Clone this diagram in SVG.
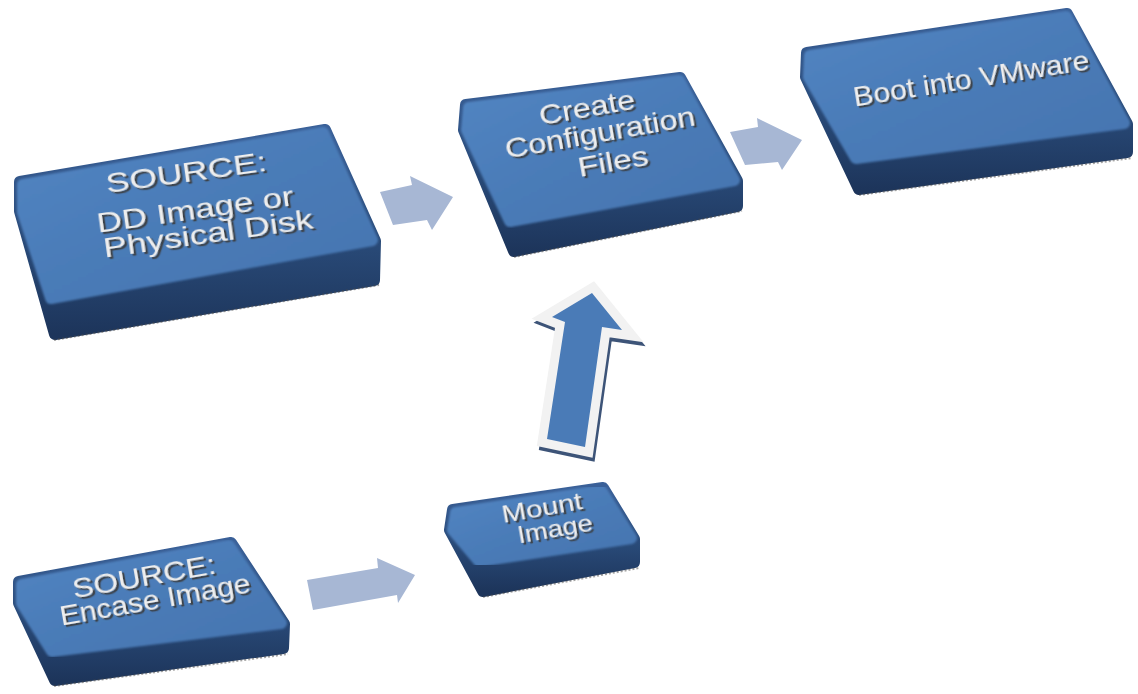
<svg xmlns="http://www.w3.org/2000/svg" width="1138" height="694" viewBox="0 0 1138 694">
<defs>
<linearGradient id="sideG" x1="0" y1="0" x2="0" y2="1">
<stop offset="0" stop-color="#3a6098"/>
<stop offset="0.55" stop-color="#294a78"/>
<stop offset="1" stop-color="#1d355b"/>
</linearGradient>
<linearGradient id="topG" x1="0" y1="0" x2="1" y2="1">
<stop offset="0" stop-color="#5285c2"/>
<stop offset="0.5" stop-color="#4a7bb7"/>
<stop offset="1" stop-color="#4575b0"/>
</linearGradient>
<filter id="txtSh" x="-10%" y="-30%" width="130%" height="170%">
<feDropShadow dx="1.8" dy="2.2" stdDeviation="0.6" flood-color="#3a3a3a" flood-opacity="0.9"/>
</filter>
<filter id="soft" x="-5%" y="-5%" width="110%" height="110%">
<feGaussianBlur stdDeviation="1"/>
</filter>
</defs>
<style>
.sil{fill:url(#sideG);stroke:url(#sideG);stroke-width:12;stroke-linejoin:round}
.top{fill:url(#topG);stroke:url(#topG);stroke-width:12;stroke-linejoin:round;filter:url(#soft)}
.dots{fill:none;stroke:#4a4a4a;stroke-width:2;stroke-dasharray:2 2;opacity:0.5}
.lbl{font-family:"Liberation Sans",Arial,sans-serif;fill:#eeeeee;text-anchor:middle;filter:url(#txtSh)}
.flow{fill:#a7b7d4}
</style>
<rect width="1138" height="694" fill="#ffffff"/>

<g id="connectors">
<polygon class="flow" points="380,192 412,185 410,176 453,197 432,230 427,220 393,225"/>
<polygon class="flow" points="730,132 758,127 757,118 802,140 782,170 778,162 745,165"/>
<polygon class="flow" points="307,580 378,568 377,558 415,575 398,603 397,595 313,610"/>
<g id="up-arrow">
<polygon points="592,293 622,330 602,327 585,447 547,439 565,322 552,317" fill="#3d5478" stroke="#3d5478" stroke-width="18" stroke-linejoin="miter" transform="translate(2,4)"/>
<polygon points="592,293 622,330 602,327 585,447 547,439 565,322 552,317" fill="#f2f2f2" stroke="#f2f2f2" stroke-width="18" stroke-linejoin="miter"/>
<polygon points="592,293 622,330 602,327 585,447 547,439 565,322 552,317" fill="#4a7bb7"/>
</g>
</g>

<g id="node-source-dd">
<polygon class="sil" points="20,182 325,130 375,241 374,280 55,334 20,211"/>
<polyline class="dots" points="54,340 379,285"/>
<polygon class="top" points="23,185 323,133 372,240 51,298 23,212"/>
<text class="lbl" font-size="28" transform="translate(186,172) rotate(-8) scale(1.27,1)" dy="0.35em">SOURCE:</text>
<text class="lbl" font-size="28" transform="translate(195,209) rotate(-8) scale(1.25,1)" dy="0.35em">DD Image or</text>
<text class="lbl" font-size="28" transform="translate(208,233) rotate(-8) scale(1.27,1)" dy="0.35em">Physical Disk</text>
</g>

<g id="node-config">
<polygon class="sil" points="466,105 680,78 737,181 737,206 514,251 464,130"/>
<polyline class="dots" points="514,257 742,211"/>
<polygon class="top" points="469,108 679,81 734,180 510,221 467,130"/>
<text class="lbl" font-size="27" transform="translate(587,108) rotate(-10) scale(1.2,1)" dy="0.35em">Create</text>
<text class="lbl" font-size="27" transform="translate(600,133) rotate(-10) scale(1.2,1)" dy="0.35em">Configuration</text>
<text class="lbl" font-size="27" transform="translate(613,162) rotate(-10) scale(1.25,1)" dy="0.35em">Files</text>
</g>

<g id="node-boot">
<polygon class="sil" points="807,53 1067,14 1127,124 1127,152 859,189 806,77"/>
<polyline class="dots" points="859,195 1132,158"/>
<polygon class="top" points="810,56 1066,17 1124,123 856,158 809,77"/>
<text class="lbl" font-size="28" transform="translate(971,78) rotate(-9) scale(1.08,1)" dy="0.35em">Boot into VMware</text>
</g>

<g id="node-source-encase">
<polygon class="sil" points="19,582 231,543 284,624 283,648 55,680 19,603"/>
<polyline class="dots" points="54,686 288,654"/>
<polygon class="top" points="22,585 229,546 281,623 52,651 22,603"/>
<text class="lbl" font-size="27" transform="translate(144,577) rotate(-10) scale(1.18,1)" dy="0.35em">SOURCE:</text>
<text class="lbl" font-size="27" transform="translate(155,600) rotate(-10) scale(1.12,1)" dy="0.35em">Encase Image</text>
</g>

<g id="node-mount">
<polygon class="sil" points="453,510 603,488 634,539 634,562 483,591 450,530"/>
<polyline class="dots" points="483,597 639,568"/>
<polygon class="top" points="456,513 601,491 631,538 479,561 453,530"/>
<text class="lbl" font-size="24" transform="translate(542,508) rotate(-10) scale(1.22,1)" dy="0.35em">Mount</text>
<text class="lbl" font-size="24" transform="translate(555,529) rotate(-10) scale(1.14,1)" dy="0.35em">Image</text>
</g>
</svg>
